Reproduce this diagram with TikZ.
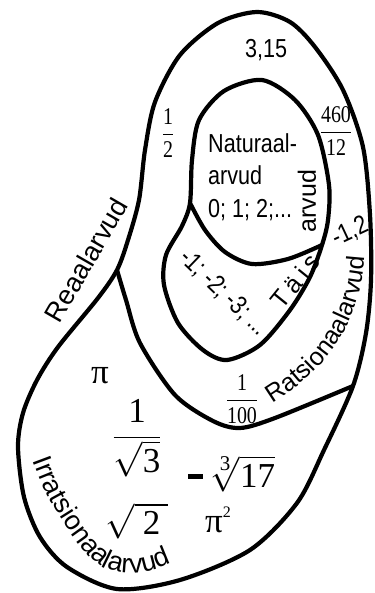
\documentclass[tikz,border=0pt]{standalone}
\usepackage{fix-cm}
\usepackage{amsmath}
\usepackage{fontspec}
\setmainfont{Liberation Sans}[FakeStretch=0.83]
\newfontfamily\arl{Liberation Sans}
\newfontfamily\tms{Liberation Serif}[FakeStretch=0.83]
\newfontfamily\tmsb{Liberation Serif}
\usetikzlibrary{decorations.text}
\definecolor{vnInk}{RGB}{0,0,0}
\newcommand{\numfrac}[2]{%
  {\fontsize{24}{28}\selectfont$\displaystyle\frac{\hbox{\tms #1}}{\hbox{\tms #2}}$}%
}

\begin{document}
\begin{tikzpicture}[x=1pt,y=-1pt,
  bound/.style={draw=vnInk,line width=4.2pt,line join=round},
  lbl/.style={inner sep=0pt,text=vnInk,font=\fontsize{26}{30}\selectfont},
  widelbl/.style={inner sep=0pt,text=vnInk,font=\fontsize{25}{30}\selectfont\arl},
  bigmath/.style={inner sep=0pt,text=vnInk,font=\fontsize{35}{40}\selectfont},
  curved/.style={decorate,decoration={text along path,text={#1}}}]
  \useasboundingbox (0,0) rectangle (374,593);
  \coordinate (L) at (117,270); \coordinate (R) at (353,386);
  \coordinate (P) at (190,203); \coordinate (Q) at (322,245);
  \draw[bound] plot[smooth cycle] coordinates {(257,12) (290,22) (315,47) (343,90) (363,147)
    (370,215) (371,280) (366,333) (R) (324,450) (297,503) (250,550) (180,580) (117,589)
    (67,567) (40,537) (24,497) (18,447) (23,413) (37,380) (58,347) (98,298) (L) (128,240)
    (139,200) (145,150) (155,102) (180,55) (218,23)};
  \draw[bound] plot[smooth] coordinates {(L) (126,300) (140,343) (175,395) (213,421) (240,428) (275,418) (R)};
  \draw[bound] plot[smooth cycle] coordinates {(262,80) (295,100) (318,135) (329,185) (328,220)
    (Q) (310,277) (290,310) (260,345) (227,360) (203,350) (178,323) (164,285) (166,255)
    (182,226) (P) (192,160) (199,120) (224,91)};
  \draw[bound] plot[smooth] coordinates {(P) (205,230) (225,252) (252,264) (288,259) (Q)};

  \node[lbl] (val) at (266,50) {3,15};
  \node[lbl,anchor=base west] (natA) at (208,153) {Naturaal-};
  \node[lbl,anchor=base west] (natB) at (208,185) {arvud};
  \node[lbl,anchor=base west] (natC) at (208,218) {0; 1; 2;...};
  \node[inner sep=0pt] (half) at (168,133) {\numfrac{1}{2}};
  \node[inner sep=0pt] (ratio) at (336,131) {\numfrac{460}{12}};
  \node[inner sep=0pt] (hundredth) at (242,399) {\numfrac{1}{100}};
  \node[lbl,rotate=25] (negdec) at (350,232) {-1,2};
  \node[lbl,rotate=-44] (negint) at (224,293) {-1; -2; -3; ...};
  \node[widelbl,font=\fontsize{27}{30}\selectfont\arl,rotate=60] (reaal) at (86,260) {Reaalarvud};
  \node[widelbl,rotate=51] (taisA) at (295,281) {\addfontfeature{LetterSpace=20}Täis};
  \node[widelbl,rotate=90] (taisB) at (307,201) {arvud};

  \node[bigmath] (pi) at (100,376) {\tmsb π};
  \node[bigmath] (invroot) at (137,438) {$\displaystyle\frac{\hbox{\tmsb 1}}{\sqrt{\hbox{\tmsb 3}}}$};
  \node[bigmath] (roottwo) at (137,521) {$\sqrt{\hbox{\tmsb\hspace{8pt}2\hspace{8pt}}}$};
  \node[bigmath,anchor=base west] (cuberoot) at (188,487)
    {\rule[8pt]{15pt}{5.5pt}\hspace{7pt}$\sqrt[\hbox{\fontsize{21}{21}\selectfont\tmsb 3}]{\hbox{\tmsb 17}}$};
  \node[bigmath,anchor=base west] (pisq) at (205,532)
    {\tmsb π\raisebox{15pt}{\fontsize{16}{16}\selectfont\tmsb 2}};

  \path[curved={|\fontsize{25}{30}\selectfont\arl|Ratsionaalarvud}] plot[smooth] coordinates
    {(272,403) (297,386) (321,364) (340,339) (354,310) (362,282) (365,255) (366,240)};
  \path[curved={|\fontsize{27}{30}\selectfont\arl|Irratsionaalarvud}] plot[smooth] coordinates
    {(33,460) (45,490) (62,520) (85,552) (103,567) (125,573) (150,571) (176,561) (190,552)};
\end{tikzpicture}
\end{document}
